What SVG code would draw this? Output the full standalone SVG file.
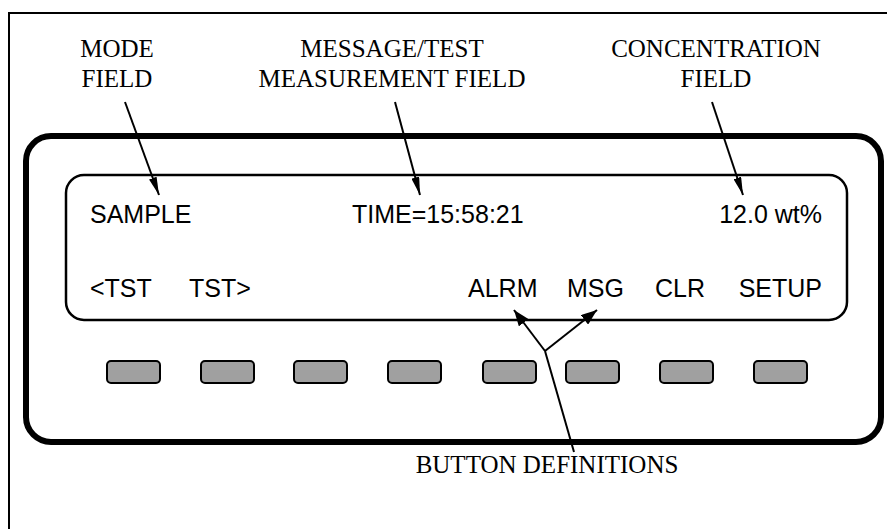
<svg xmlns="http://www.w3.org/2000/svg" width="887" height="529" viewBox="0 0 887 529">
  <style>
    .lbl { font-family: "Liberation Serif", "Times New Roman", serif; font-size: 25px; fill: #000; text-anchor: middle; }
    .disp { font-family: "Liberation Sans", Arial, sans-serif; font-size: 25px; fill: #000; }
    .btn { fill: #a0a0a0; stroke: #000; stroke-width: 2; }
    .lead { stroke: #000; stroke-width: 2; fill: none; }
  </style>
  <defs>
    <marker id="tip" viewBox="0 0 18 8" refX="18" refY="4" markerWidth="18" markerHeight="8" markerUnits="userSpaceOnUse" orient="auto">
      <path d="M0,0 L18,4 L0,8 Z" fill="#000"/>
    </marker>
    <marker id="tipWide" viewBox="0 0 16 12" refX="16" refY="6" markerWidth="16" markerHeight="12" markerUnits="userSpaceOnUse" orient="auto">
      <path d="M0,0 L16,6 L0,12 Z" fill="#000"/>
    </marker>
  </defs>
  <rect width="887" height="529" fill="#fff"/>

  <!-- page frame -->
  <path d="M9,529 V13 H887" fill="none" stroke="#000" stroke-width="2"/>

  <!-- instrument front panel -->
  <g id="panel">
    <rect x="26" y="136" width="855" height="306" rx="25" fill="none" stroke="#000" stroke-width="6"/>
  </g>

  <!-- display window -->
  <g id="display">
    <rect x="66" y="175" width="781" height="145" rx="18" fill="none" stroke="#000" stroke-width="2.5"/>
    <text class="disp" x="90" y="223">SAMPLE</text>
    <text class="disp" x="352" y="223">TIME=15:58:21</text>
    <text class="disp" x="822" y="223" text-anchor="end">12.0 wt%</text>
    <text class="disp" x="90" y="297">&lt;TST</text>
    <text class="disp" x="189" y="297">TST&gt;</text>
    <text class="disp" x="468" y="297">ALRM</text>
    <text class="disp" x="567" y="297">MSG</text>
    <text class="disp" x="655" y="297">CLR</text>
    <text class="disp" x="822" y="297" text-anchor="end">SETUP</text>
  </g>

  <!-- soft keys -->
  <g id="buttons">
    <rect class="btn" x="107" y="361" width="53" height="22" rx="4"/>
    <rect class="btn" x="201" y="361" width="53" height="22" rx="4"/>
    <rect class="btn" x="294" y="361" width="53" height="22" rx="4"/>
    <rect class="btn" x="388" y="361" width="53" height="22" rx="4"/>
    <rect class="btn" x="483" y="361" width="53" height="22" rx="4"/>
    <rect class="btn" x="566" y="361" width="53" height="22" rx="4"/>
    <rect class="btn" x="660" y="361" width="53" height="22" rx="4"/>
    <rect class="btn" x="754" y="361" width="53" height="22" rx="4"/>
  </g>

  <!-- callout labels -->
  <g id="mode-label">
    <text class="lbl" x="117" y="57">MODE</text>
    <text class="lbl" x="117" y="87">FIELD</text>
  </g>
  <g id="message-label">
    <text class="lbl" x="392" y="57">MESSAGE/TEST</text>
    <text class="lbl" x="392" y="87">MEASUREMENT FIELD</text>
  </g>
  <g id="concentration-label">
    <text class="lbl" x="716" y="57">CONCENTRATION</text>
    <text class="lbl" x="716" y="87">FIELD</text>
  </g>
  <g id="button-label">
    <text class="lbl" x="547" y="473">BUTTON DEFINITIONS</text>
  </g>

  <!-- leader lines -->
  <g id="connectors">
    <line class="lead" x1="125" y1="102" x2="159" y2="195" marker-end="url(#tip)"/>
    <line class="lead" x1="395" y1="102" x2="420" y2="195" marker-end="url(#tip)"/>
    <line class="lead" x1="712" y1="102" x2="743" y2="195" marker-end="url(#tip)"/>
    <line class="lead" x1="574" y1="452" x2="545" y2="351"/>
    <line class="lead" x1="545" y1="351" x2="514" y2="310" marker-end="url(#tipWide)"/>
    <line class="lead" x1="545" y1="351" x2="597" y2="310" marker-end="url(#tipWide)"/>
  </g>
</svg>
